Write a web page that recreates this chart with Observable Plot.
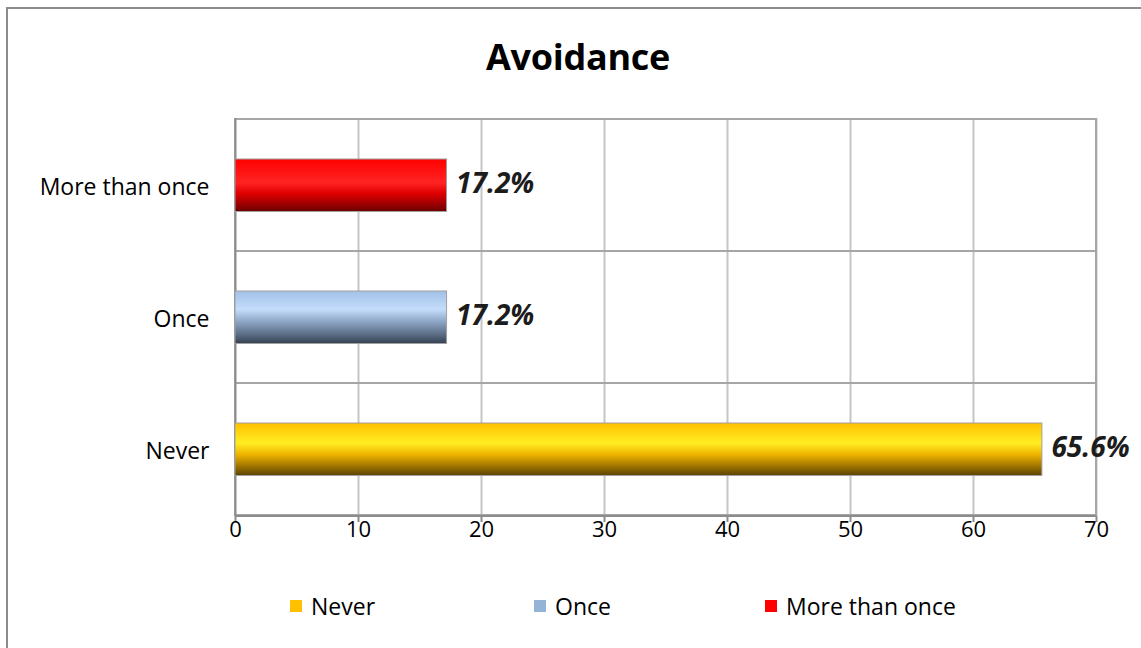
<!DOCTYPE html>
<html>
<head>
<meta charset="utf-8">
<script src="https://cdn.jsdelivr.net/npm/d3@7"></script>
<script src="https://cdn.jsdelivr.net/npm/@observablehq/plot@0.6"></script>
<style>
  html, body { margin: 0; padding: 0; background: #fff; overflow: hidden; }
  body { width: 1141px; height: 648px; position: relative; font-family: "Open Sans", "Noto Sans", sans-serif; }
  #frame { position: absolute; left: 6px; top: 7px; width: 1160px; height: 670px; border: 2px solid #8c8c8c; box-sizing: border-box; }
  #title { position: absolute; left: 0; width: 1156px; top: 32px; text-align: center; font-weight: 700; font-size: 36px; color: #000; letter-spacing: -0.3px; }
  #chart { position: absolute; left: 0; top: 100px; }
  #legend { position: absolute; top: 590px; left: 0; width: 1141px; height: 32px; }
  .li { position: absolute; display: flex; align-items: center; font-size: 23px; color: #000; }
  .sw { width: 12px; height: 12px; margin-right: 9px; }
</style>
</head>
<body>
<div id="frame"></div>
<div id="title">Avoidance</div>
<div id="chart"></div>
<div id="legend"></div>
<script>
// Data
const categories = ["Never", "Once", "More than once"];
const values = [65.6, 17.2, 17.2];
const labels = ["65.6%", "17.2%", "17.2%"];
const legendColors = ["#ffc000", "#95b3d7", "#ff0000"];
const xTicks = [0, 10, 20, 30, 40, 50, 60, 70];
const gradientIds = ["gNever", "gOnce", "gMore"];
const gradientStops = [
  [[0, "#ffc000"], [0.38, "#ffee22"], [0.6, "#f0b400"], [0.82, "#a07400"], [1, "#5a4200"]],
  [[0, "#a3c1e8"], [0.35, "#c3ddfa"], [0.6, "#8aa2c2"], [0.85, "#56677f"], [1, "#344050"]],
  [[0, "#ff0000"], [0.45, "#ff2424"], [0.65, "#e00000"], [0.85, "#a00000"], [1, "#6a0000"]]
];
const legendX = [290, 534, 765];

const rows = categories.map((c, i) => ({cat: c, value: values[i], label: labels[i], fill: `url(#${gradientIds[i]})`}));
const yDomain = categories.slice().reverse();

const chart = Plot.plot({
  width: 1141,
  height: 460,
  marginLeft: 235,
  marginRight: 45,
  marginTop: 18,
  marginBottom: 44,
  x: {domain: [0, 70]},
  y: {domain: yDomain, padding: 0},
  color: {type: "identity"},
  style: {fontFamily: "'Open Sans', 'Noto Sans', sans-serif", color: "#000", background: "transparent"},
  marks: [
    Plot.ruleX(xTicks.slice(1), {stroke: "#c6c6c6", strokeWidth: 2}),
    Plot.barX(yDomain, {x1: 0, x2: 70, y: d => d, fill: "none", stroke: "#a6a6a6", strokeWidth: 2}),
    Plot.ruleX([0], {stroke: "#8c8c8c", strokeWidth: 2}),
    Plot.barX(rows, {x: "value", y: "cat", fill: "fill", stroke: "#a0a0a0", strokeWidth: 1, insetTop: 40, insetBottom: 39.5}),
    Plot.text(rows, {x: "value", y: "cat", text: "label", textAnchor: "start", dx: 9, dy: -1, fontSize: 28, fontWeight: 700, fontStyle: "italic", fill: "#1c1c1c"}),
    Plot.axisX({ticks: xTicks, tickSize: 6, tickPadding: -1, fontSize: 22, stroke: "#8c8c8c", strokeWidth: 2, label: null, tickFormat: d => String(d)}),
    Plot.axisY({tickSize: 0, tickPadding: 26, fontSize: 23, dy: 2, label: null})
  ]
});

// gradient defs
const svg = d3.select(chart);
const defs = svg.insert("defs", ":first-child");
gradientIds.forEach((id, i) => {
  const g = defs.append("linearGradient").attr("id", id).attr("x1", 0).attr("y1", 0).attr("x2", 0).attr("y2", 1);
  gradientStops[i].forEach(([o, c]) => g.append("stop").attr("offset", o).attr("stop-color", c));
});
// bottom axis baseline
const x0 = 235, x1 = 1141 - 45, yb = 460 - 44;
svg.append("line").attr("x1", x0).attr("x2", x1).attr("y1", yb).attr("y2", yb).attr("stroke", "#8c8c8c").attr("stroke-width", 2);

document.getElementById("chart").appendChild(chart);

// legend
const legend = document.getElementById("legend");
categories.forEach((c, i) => {
  const item = document.createElement("div");
  item.className = "li";
  item.style.left = legendX[i] + "px";
  item.innerHTML = `<span class="sw" style="background:${legendColors[i]}"></span><span>${c}</span>`;
  legend.appendChild(item);
});
</script>
</body>
</html>
